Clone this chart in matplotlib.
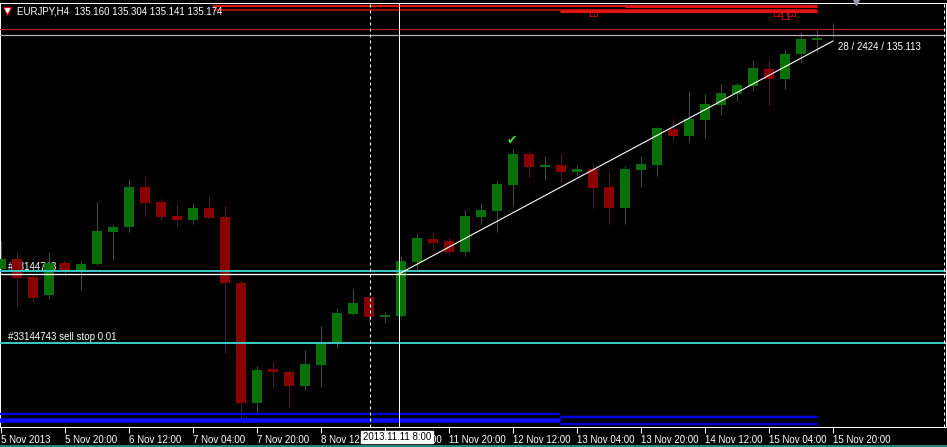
import matplotlib
matplotlib.use("Agg")
import matplotlib.pyplot as plt
from matplotlib.patches import Rectangle
from matplotlib.lines import Line2D
import matplotlib.transforms as mtransforms

plt.rcParams['font.family'] = ['Liberation Sans', 'DejaVu Sans']

# ---------------- data ----------------
symbol = "EURJPY,H4"
tick_labels = ["5 Nov 2013", "5 Nov 20:00", "6 Nov 12:00", "7 Nov 04:00", "7 Nov 20:00",
               "8 Nov 12:00", "11 Nov 04:00", "11 Nov 20:00", "12 Nov 12:00", "13 Nov 04:00",
               "13 Nov 20:00", "14 Nov 12:00", "15 Nov 04:00", "15 Nov 20:00"]

opens = [132.730, 132.835, 132.647, 132.459, 132.793, 132.710, 132.783, 133.117, 133.169, 133.587,
         133.431, 133.284, 133.243, 133.368, 133.274, 132.584, 131.330, 131.685, 131.654, 131.508,
         131.727, 131.947, 132.260, 132.438, 132.229, 132.239, 132.804, 133.044, 133.023, 132.908,
         133.274, 133.337, 133.608, 133.932, 133.796, 133.817, 133.744, 133.775, 133.587, 133.368,
         133.765, 133.817, 134.193, 134.120, 134.288, 134.444, 134.559, 134.643, 134.820, 134.716,
         134.977, 135.124, 135.160]
highs = [133.023, 132.919, 132.678, 132.908, 132.814, 132.814, 133.431, 133.190, 133.671, 133.702,
         133.462, 133.399, 133.420, 133.504, 133.389, 132.605, 131.717, 131.769, 131.675, 131.884,
         132.135, 132.323, 132.521, 132.459, 132.281, 132.866, 133.096, 133.117, 133.054, 133.347,
         133.420, 133.650, 133.984, 133.964, 133.911, 133.943, 133.817, 133.828, 133.734, 133.807,
         133.911, 134.214, 134.298, 134.591, 134.559, 134.664, 134.674, 134.915, 134.904, 135.019,
         135.197, 135.228, 135.304]
lows = [132.699, 132.333, 132.386, 132.417, 132.657, 132.511, 132.772, 132.825, 133.117, 133.284,
        133.243, 133.169, 133.201, 133.253, 131.853, 131.173, 131.226, 131.487, 131.278, 131.466,
        131.497, 131.905, 132.250, 132.166, 132.166, 132.229, 132.720, 132.939, 132.887, 132.866,
        133.201, 133.117, 133.389, 133.692, 133.661, 133.640, 133.713, 133.368, 133.201, 133.201,
        133.587, 133.702, 134.068, 134.058, 134.099, 134.340, 134.486, 134.591, 134.444, 134.611,
        134.883, 134.988, 135.141]
closes = [132.835, 132.636, 132.427, 132.793, 132.710, 132.783, 133.128, 133.169, 133.587, 133.420,
          133.274, 133.243, 133.368, 133.263, 132.584, 131.330, 131.675, 131.654, 131.508, 131.738,
          131.952, 132.271, 132.375, 132.229, 132.250, 132.814, 133.054, 133.002, 132.908, 133.284,
          133.347, 133.619, 133.932, 133.796, 133.817, 133.744, 133.775, 133.577, 133.368, 133.775,
          133.828, 134.204, 134.120, 134.298, 134.455, 134.570, 134.653, 134.831, 134.716, 134.977,
          135.134, 135.144, 135.174]

header_values = ["135.160", "135.304", "135.141", "135.174"]
sl_price = 132.705
sell_stop_price = 131.952
order_ticket = "#33144743"
bid_price = 135.174
ask_price = 135.238
red_levels = [135.479, 135.437]
red_level_labels = ["L5", "L2", "L3", "L1"]
blue_levels_a = [131.210, 131.153]
blue_levels_b = [131.184, 131.111]
crosshair_bar = 24.875
crosshair_price = 132.689
crosshair_time = "2013.11.11 8:00"
separator_bar = 23.06
trend_end_bar = 52
trend_end_price = 135.113
measure_label = "28 / 2424 / 135.113"
signal_bar = 32
signal_price = 134.078

# ---------------- figure ----------------
W, H = 947, 447
PX = 0.72  # one pixel in points at dpi 100
fig = plt.figure(figsize=(W / 100, H / 100), dpi=100, facecolor='black')
ax = fig.add_axes([0 / W, (H - 427) / H, 946 / W, (427 - 3) / H])
ax.set_facecolor('black')
ax.set_xlim(-1 / 16, 945 / 16)
ax.set_ylim(131.079, 135.510)

bull = '#087008'
bear = '#8A0000'
for i, (o, h, l, c) in enumerate(zip(opens, highs, lows, closes)):
    col = bull if c >= o else bear
    ax.vlines(i, l, h, color=col, lw=PX * 1.1, zorder=3)
    bot = min(o, c)
    ht = max(abs(c - o), 0.0105)
    ax.add_patch(Rectangle((i - 0.33, bot), 0.66, ht, facecolor=col, edgecolor='none', zorder=4))

# order lines
ax.axhline(sl_price, color='#3CC4C4', lw=PX * 2, zorder=5)
ax.axhline(sell_stop_price, color='#3CC4C4', lw=PX * 2, zorder=5)
ax.text(0.44, sl_price + 0.012, order_ticket + " sl", color='white', fontsize=7,
        va='baseline', ha='left', zorder=1)
ax.text(0.44, sell_stop_price + 0.031, order_ticket + " sell stop 0.01", color='white', fontsize=7,
        va='baseline', ha='left', zorder=6)

# bid / ask
ax.axhline(ask_price, color='#B02020', lw=PX * 1.2, zorder=5)
ax.axhline(bid_price, color='#B4B4B4', lw=PX * 1.2, zorder=5)

# red levels at top
x213, x560, x625, x817 = 13.25, 34.94, 39.0, 51.0
ax.hlines(red_levels[0], x213, x817, color='#E01414', lw=PX * 2.2, zorder=5)
ax.hlines(red_levels[0] - 0.002, x625, x817, color='#E01414', lw=PX * 3.2, zorder=5)
ax.hlines(red_levels[1], x213, x817, color='#D01010', lw=PX * 1.6, zorder=5)
ax.hlines(red_levels[1] - 0.008, x560, x817, color='#E01414', lw=PX * 3.2, zorder=5)
for txt, xi, yp in zip(red_level_labels, [36.69, 48.19, 49.06, 48.69],
                       [135.364, 135.364, 135.364, 135.330]):
    ax.text(xi, yp, txt, color='#E01414', fontsize=7, ha='left', va='baseline', zorder=4)

# blue levels at bottom
ax.hlines(blue_levels_a[0], -1, x560, color='#0000E6', lw=PX * 2.2, zorder=5)
ax.hlines(blue_levels_a[1], -1, x560, color='#0A0AFF', lw=PX * 4.5, zorder=5)
ax.hlines(blue_levels_b[0], x560, x817, color='#0000E0', lw=PX * 2.5, zorder=5)
ax.hlines(blue_levels_b[1], x560, x817, color='#0000D0', lw=PX * 2.5, zorder=5)

# crosshair, separators, trendline
ax.axvline(crosshair_bar, color='white', lw=PX, zorder=6)
ax.axhline(crosshair_price - 0.01, color='white', lw=PX * 1.3, zorder=6)
ax.axvline(separator_bar, color='white', lw=PX, ls=(0, (3, 3)), zorder=6)
ax.axvline(58.96, color='white', lw=PX, ls=(0, (3, 3)), zorder=6)
ax.plot([crosshair_bar, trend_end_bar], [crosshair_price - 0.01, trend_end_price],
        color='white', lw=PX * 1.1, zorder=7)
ax.text(52.31, 135.019, measure_label, color='white', fontsize=7, ha='left', va='baseline', zorder=7)

# signal check mark
ax.text(signal_bar - 0.06, signal_price, "\u2714", color='#3CE03C', fontsize=9,
        family='DejaVu Sans', ha='center', va='center', zorder=7)

# chart shift marker
ax.plot([53.44], [135.527], marker='v', markersize=6, color='#9A9AA8', clip_on=False, zorder=8)

# axes styling
ax.set_xticks(range(0, len(opens), 4))
ax.set_xticklabels(tick_labels, fontsize=7, color='white')
for lab in ax.get_xticklabels():
    lab.set_ha('left')
ax.tick_params(axis='x', colors='white', length=4, width=PX, pad=1.5, direction='out')
ax.set_yticks([])
for s in ax.spines.values():
    s.set_color('white')
    s.set_linewidth(PX)

# crosshair time box on the axis
trans = mtransforms.blended_transform_factory(ax.transData, ax.transAxes)
ax.text(crosshair_bar - 0.12, -0.0235, crosshair_time, transform=trans, fontsize=7, color='black',
        ha='center', va='center', clip_on=False, zorder=20,
        bbox=dict(boxstyle='square,pad=0.15', facecolor='white', edgecolor='white'))

# header
fig.text(17 / W, 1 - 15 / H, symbol + "  " + " ".join(header_values), color='white',
         fontsize=7, ha='left', va='baseline')
fig.add_artist(Line2D([7 / W], [1 - 10.5 / H], marker='v', markersize=6, color='white',
                      markeredgecolor='#D00000', markeredgewidth=0.8, transform=fig.transFigure))
fig.add_artist(Line2D([0, 1], [0.6 / H, 0.6 / H], color='#2A9D9D', lw=1.2, transform=fig.transFigure))

fig.savefig("out.png", dpi=100, facecolor='black')
